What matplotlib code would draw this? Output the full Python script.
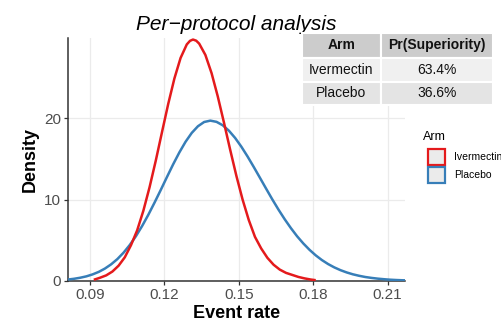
import matplotlib
matplotlib.use('Agg')
import matplotlib.pyplot as plt
from matplotlib.patches import Rectangle

plt.rcParams['font.family'] = ['Liberation Sans', 'DejaVu Sans']

# posterior density of the event rate, per arm
ivm_rate = [0.0915, 0.0940, 0.0965, 0.0990, 0.1015, 0.1040, 0.1065, 0.1090, 0.1115, 0.1140,
            0.1165, 0.1190, 0.1215, 0.1240, 0.1265, 0.1290, 0.1303, 0.1315, 0.1328, 0.1340,
            0.1365, 0.1390, 0.1415, 0.1440, 0.1465, 0.1490, 0.1515, 0.1540, 0.1565, 0.1590,
            0.1615, 0.1640, 0.1665, 0.1690, 0.1715, 0.1740, 0.1765, 0.1790, 0.1810]
ivm_density = [0.15, 0.40, 0.69, 1.16, 1.88, 2.91, 4.40, 6.23, 8.64, 11.53,
               14.79, 18.28, 21.73, 24.87, 27.40, 29.06, 29.50, 29.66, 29.52, 29.16,
               27.77, 25.53, 22.67, 19.45, 16.12, 12.92, 10.01, 7.49, 5.42, 4.00,
               2.85, 2.00, 1.40, 1.00, 0.75, 0.50, 0.32, 0.18, 0.10]

pbo_rate = [0.0810, 0.0835, 0.0860, 0.0885, 0.0910, 0.0935, 0.0960, 0.0985, 0.1010, 0.1035,
            0.1060, 0.1085, 0.1110, 0.1135, 0.1160, 0.1185, 0.1210, 0.1235, 0.1260, 0.1285,
            0.1310, 0.1335, 0.1360, 0.1385, 0.1410, 0.1435, 0.1460, 0.1485, 0.1510, 0.1535,
            0.1560, 0.1585, 0.1610, 0.1635, 0.1660, 0.1685, 0.1710, 0.1735, 0.1760, 0.1785,
            0.1810, 0.1835, 0.1860, 0.1885, 0.1910, 0.1935, 0.1960, 0.1985, 0.2010, 0.2035,
            0.2060, 0.2085, 0.2110, 0.2135, 0.2160, 0.2175]
pbo_density = [0.18, 0.27, 0.40, 0.57, 0.81, 1.12, 1.53, 2.05, 2.69, 3.48,
               4.42, 5.51, 6.76, 8.14, 9.63, 11.18, 12.77, 14.33, 15.79, 17.10,
               18.19, 19.01, 19.53, 19.70, 19.55, 19.13, 18.46, 17.57, 16.50, 15.30,
               14.01, 12.68, 11.34, 10.02, 8.76, 7.58, 6.49, 5.49, 4.61, 3.83,
               3.15, 2.57, 2.08, 1.67, 1.33, 1.05, 0.82, 0.64, 0.49, 0.38,
               0.29, 0.22, 0.16, 0.12, 0.09, 0.08]

arms = ['Ivermectin', 'Placebo']
pr_superiority = ['63.4%', '36.6%']
arm_colors = ['#E41A1C', '#377EB8']
x_ticks = [0.09, 0.12, 0.15, 0.18, 0.21]
y_ticks = [0, 10, 20]

W, H = 501, 324
fig = plt.figure(figsize=(W / 100, H / 100), dpi=100)
ax = fig.add_axes([68 / W, 1 - 281 / H, 337 / W, 243 / H])

ax.plot(pbo_rate, pbo_density, color=arm_colors[1], lw=1.8, solid_capstyle='butt', zorder=3)
ax.plot(ivm_rate, ivm_density, color=arm_colors[0], lw=1.8, solid_capstyle='butt', zorder=3)

ax.set_xlim(0.0811, 0.2170)
ax.set_ylim(0, 29.85)
ax.set_xticks(x_ticks)
ax.set_xticklabels([f'{t:.2f}' for t in x_ticks])
ax.set_yticks(y_ticks)
ax.grid(True, color='#EBEBEB', lw=0.9)
ax.set_axisbelow(True)
for side in ['top', 'right']:
    ax.spines[side].set_visible(False)
for side in ['left', 'bottom']:
    ax.spines[side].set_color('#333333')
    ax.spines[side].set_linewidth(1.1)
ax.tick_params(length=3, width=0.9, color='#333333', labelsize=11, labelcolor='#4D4D4D', pad=2)

ax.set_xlabel('Event rate', fontsize=13, fontweight='bold', labelpad=2)
ax.set_ylabel('Density', fontsize=13, fontweight='bold', labelpad=4)
ax.set_title('Per\u2212protocol analysis', fontsize=15, style='italic', pad=6)

# table and legend are laid out in pixel coordinates on top of everything
ov = fig.add_axes([0, 0, 1, 1], zorder=5)
ov.set_xlim(0, W)
ov.set_ylim(H, 0)
ov.axis('off')

col_x = [302, 381, 493]
row_y = [33, 57.5, 81.5, 105]
rows = [['Arm', 'Pr(Superiority)']] + [[a, p] for a, p in zip(arms, pr_superiority)]
fills = ['#CCCCCC', '#F0F0F0', '#E4E4E4']
for r, row in enumerate(rows):
    for c, txt in enumerate(row):
        x0, x1 = col_x[c], col_x[c + 1]
        y0, y1 = row_y[r], row_y[r + 1]
        ov.add_patch(Rectangle((x0, y0), x1 - x0, y1 - y0, facecolor=fills[r],
                               edgecolor='white', lw=1.5))
        ov.text((x0 + x1) / 2, (y0 + y1) / 2, txt, ha='center', va='center', fontsize=10,
                fontweight='bold' if r == 0 else 'normal', color='#111111')

ov.text(423, 137, 'Arm', fontsize=9, ha='left', va='center', color='black')
for i, (name, col) in enumerate(zip(arms, arm_colors)):
    y0 = 148.5 + i * 18.5
    ov.add_patch(Rectangle((428, y0), 17, 16, facecolor='#EBEBEB', edgecolor=col, lw=1.6))
    ov.text(454, y0 + 8.5, name, fontsize=7.5, ha='left', va='center', color='black')

fig.savefig('out.png', dpi=100)
